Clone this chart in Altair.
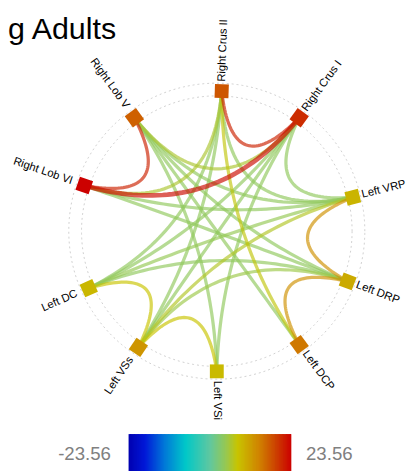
import numpy as np
import pandas as pd
import altair as alt

# ---------------- data ----------------
title_text = "g Adults"
regions = ["Right Crus II", "Right Crus I", "Left VRP", "Left DRP", "Left DCP",
           "Left VSi", "Left VSs", "Left DC", "Right Lob VI", "Right Lob V"]
node_value = [17.5, 20.5, 9.5, 10.5, 15.0, 9.0, 12.5, 9.3, 23.5, 16.8]

edge_source = [0, 8, 8, 2, 3, 6, 5, 0, 9, 0, 6, 7, 8, 8, 1, 0, 0, 0, 1, 1, 1, 9, 9, 9, 9, 7, 6]
edge_target = [1, 9, 1, 3, 4, 7, 6, 8, 1, 4, 2, 2, 2, 3, 2, 2, 6, 7, 7, 5, 6, 3, 4, 5, 2, 3, 3]
edge_value = [21.3, 21.3, 22.8, 13.0, 13.0, 8.0, 8.0, 6.0, 6.0, 7.5, 6.5, 4.5, 4.0, 4.0, 4.0,
              4.0, 4.0, 4.0, 4.0, 4.0, 4.0, 4.0, 4.0, 4.0, 4.0, 4.0, 5.0]

cbar_min, cbar_max = -23.56, 23.56

# ---------------- layout (not data) ----------------
node_angle_deg = [88, 54, 14, -21, -54, -90, -124, -156, 161, 126]
R = 143.0
LABEL_R_RIGHT = 152.5
LABEL_R_LEFT = 156.0
W, H = 406, 463
xdom = [-213, 193]
ydom = [-240, 223]

# jet-like colour map used by the source figure
stop_frac = [0.0, 0.1, 0.22, 0.35, 0.5, 0.6, 0.67, 0.8, 0.9, 1.0]
stop_col = ["#0000b0", "#0018d8", "#0078d8", "#00c8c8", "#60c8a0", "#98c850",
            "#c8c400", "#d08400", "#cc4400", "#cc0000"]
cdomain = [cbar_min + f * (cbar_max - cbar_min) for f in stop_frac]
cscale = alt.Scale(domain=cdomain, range=stop_col, interpolate="rgb", clamp=True)

xs = alt.Scale(domain=xdom, range=[0, W])
ys = alt.Scale(domain=ydom, range=[H, 0])

ang = np.radians(node_angle_deg)
nx = R * np.cos(ang)
ny = R * np.sin(ang)

nodes = pd.DataFrame({
    "name": regions, "v": node_value, "x": nx, "y": ny,
    "rot": [(-a) % 360 for a in node_angle_deg],
})

# label table
lab = []
for i, a in enumerate(node_angle_deg):
    right = np.cos(np.radians(a)) >= -1e-6
    lr = LABEL_R_RIGHT if right else LABEL_R_LEFT
    lab.append({
        "name": regions[i],
        "x": lr * np.cos(np.radians(a)),
        "y": lr * np.sin(np.radians(a)),
        "rot": ((-a) % 360) if right else ((-a - 180) % 360),
        "side": "R" if right else "L",
    })
labels = pd.DataFrame(lab)

# edges as curves
rows = []
order = np.argsort(edge_value, kind="stable")
t = np.linspace(0, 1, 48)
for rank, k in enumerate(order):
    i, j = edge_source[k], edge_target[k]
    p0 = np.array([nx[i], ny[i]])
    p2 = np.array([nx[j], ny[j]])
    adjacent = abs(i - j) in (1, len(regions) - 1)
    s = 0.36 if adjacent else 0.1
    c = s * (p0 + p2) / 2.0
    pts = ((1 - t)[:, None] ** 2) * p0 + (2 * (1 - t) * t)[:, None] * c + (t[:, None] ** 2) * p2
    for q, (px_, py_) in enumerate(pts):
        rows.append({"eid": rank, "t": q, "x": px_, "y": py_, "v": edge_value[k]})
edges = pd.DataFrame(rows)

# guide circles
th = np.linspace(0, 2 * np.pi, 361)
circ = pd.DataFrame(
    [{"cid": cid, "t": q, "x": r * np.cos(a), "y": r * np.sin(a)}
     for cid, r in enumerate([138.0, 151.0]) for q, a in enumerate(th)]
)

# colour bar strips (overlapping slightly so no seams show)
vals = np.linspace(cbar_min, cbar_max, 121)
step = vals[1] - vals[0]
cbar = pd.DataFrame({
    "v": vals[:-1],
    "v2": np.minimum(vals[1:] + 0.8 * step, cbar_max),
    "c": (vals[:-1] + vals[1:]) / 2,
})

FONT = "Liberation Sans"

circles = alt.Chart(circ).mark_line(
    stroke="#c4c4c4", strokeWidth=0.8, strokeDash=[2, 3]
).encode(
    x=alt.X("x:Q", scale=xs, axis=None),
    y=alt.Y("y:Q", scale=ys, axis=None),
    detail="cid:N", order="t:Q",
)

edge_layer = alt.Chart(edges).mark_line(opacity=0.66, strokeCap="round").encode(
    x=alt.X("x:Q", scale=xs, axis=None),
    y=alt.Y("y:Q", scale=ys, axis=None),
    detail="eid:N", order="t:Q",
    stroke=alt.Stroke("v:Q", scale=cscale, legend=None),
    size=alt.Size("v:Q", scale=alt.Scale(domain=[21.6, 23], range=[3.3, 5], clamp=True), legend=None),
)

node_layer = alt.Chart(nodes).mark_point(shape="square", filled=True, size=200, opacity=1).encode(
    x=alt.X("x:Q", scale=xs, axis=None),
    y=alt.Y("y:Q", scale=ys, axis=None),
    fill=alt.Fill("v:Q", scale=cscale, legend=None),
    angle=alt.Angle("rot:Q", scale=None),
)

lab_r = alt.Chart(labels).transform_filter("datum.side == 'R'").mark_text(
    align="left", baseline="middle", font=FONT, fontSize=11.5, color="#000000"
).encode(
    x=alt.X("x:Q", scale=xs, axis=None),
    y=alt.Y("y:Q", scale=ys, axis=None),
    text="name:N",
    angle=alt.Angle("rot:Q", scale=None),
)
lab_l = alt.Chart(labels).transform_filter("datum.side == 'L'").mark_text(
    align="right", baseline="middle", font=FONT, fontSize=11.5, color="#000000"
).encode(
    x=alt.X("x:Q", scale=xs, axis=None),
    y=alt.Y("y:Q", scale=ys, axis=None),
    text="name:N",
    angle=alt.Angle("rot:Q", scale=None),
)

cb = alt.Chart(cbar).mark_rect(opacity=1, strokeWidth=0).encode(
    x=alt.X("v:Q", scale=alt.Scale(domain=[cbar_min, cbar_max], range=[123, 289]), axis=None),
    x2="v2:Q",
    y=alt.value(430), y2=alt.value(470),
    fill=alt.Fill("c:Q", scale=cscale, legend=None),
)

cb_lo = alt.Chart(pd.DataFrame({"s": [f"{cbar_min:.2f}"]})).mark_text(
    align="right", baseline="alphabetic", font=FONT, fontSize=19, color="#808080"
).encode(text="s:N", x=alt.value(105), y=alt.value(456))
cb_hi = alt.Chart(pd.DataFrame({"s": [f"{cbar_max:.2f}"]})).mark_text(
    align="left", baseline="alphabetic", font=FONT, fontSize=19, color="#808080"
).encode(text="s:N", x=alt.value(304), y=alt.value(456))

title = alt.Chart(pd.DataFrame({"s": [title_text]})).mark_text(
    align="left", baseline="alphabetic", font=FONT, fontSize=31, color="#000000"
).encode(text="s:N", x=alt.value(0), y=alt.value(27))

chart = alt.layer(
    circles, edge_layer, node_layer, lab_r, lab_l, cb, cb_lo, cb_hi, title
).resolve_scale(
    x="independent", y="independent", fill="independent", stroke="independent", size="independent"
).properties(
    width=W, height=H, autosize=alt.AutoSizeParams(type="none"), padding=0
).configure_view(stroke=None)

chart.save("out.html", embed_options={"renderer": "svg", "actions": False})
